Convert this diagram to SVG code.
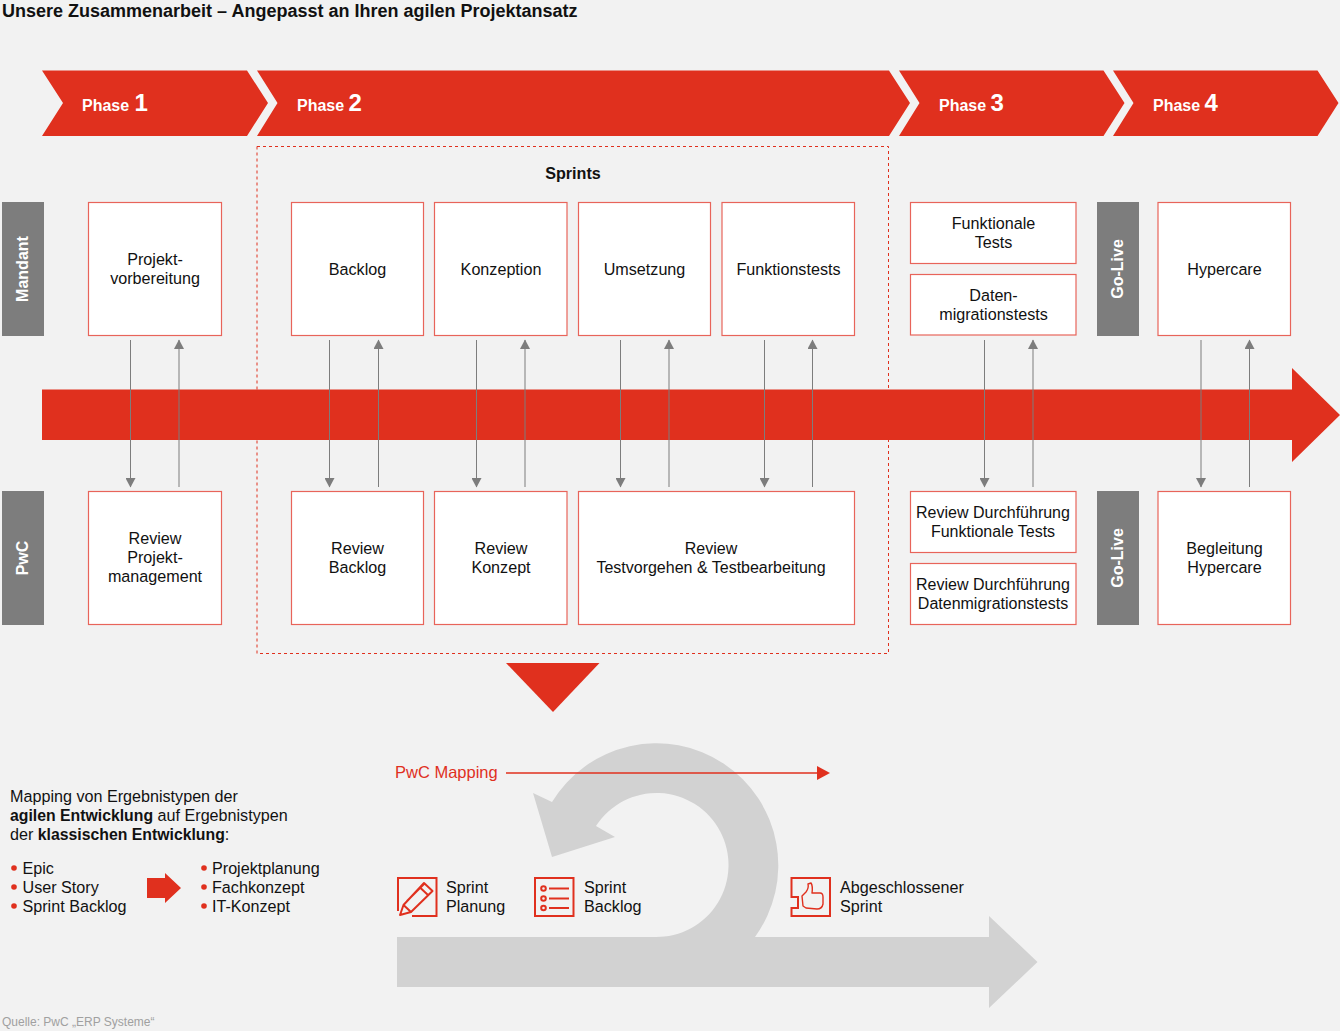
<svg xmlns="http://www.w3.org/2000/svg" width="1340" height="1031" viewBox="0 0 1340 1031">
<style>
text{font-family:"Liberation Sans",Arial,sans-serif;font-size:16.15px;fill:#111}
.c{text-anchor:middle}
.b{font-weight:700}
.bt{font-weight:700;font-size:15.8px}
.box{fill:#fff;stroke:#E8645A;stroke-width:1.2}
.red{fill:#E0301E}
.bar{fill:#7D7D7D}
.rot{font-weight:700;fill:#fff;text-anchor:middle;font-size:16px}
.ph{font-weight:700;fill:#fff;font-size:16px}
.ph tspan{font-size:24px}
.ln{stroke:#7D7D7D;stroke-width:1;fill:none}
.ic{fill:none;stroke:#E0301E;stroke-width:2}
</style>
<defs>
<marker id="ah" markerUnits="userSpaceOnUse" markerWidth="10" markerHeight="10" refX="9" refY="5" orient="auto"><path d="M0,0L9.5,5L0,10Z" fill="#7D7D7D"/></marker>
</defs>
<rect width="1340" height="1031" fill="#F2F2F2"/>
<text id="title" x="2" y="16.500" class="b" style="font-size:18px">Unsere Zusammenarbeit – Angepasst an Ihren agilen Projektansatz</text>

<g id="phase1"><path class="red" d="M42,70.5H247L268,103L247,136H42L63,103Z"/><text class="ph" x="82" y="110.500">Phase <tspan x="134.500">1</tspan></text></g>
<g id="phase2"><path class="red" d="M257,70.5H889L910,103L889,136H257L277.5,103Z"/><text class="ph" x="297" y="110.500">Phase <tspan>2</tspan></text></g>
<g id="phase3"><path class="red" d="M899,70.5H1103.5L1124.5,103L1103.5,136H899L919.5,103Z"/><text class="ph" x="939" y="110.500">Phase <tspan>3</tspan></text></g>
<g id="phase4"><path class="red" d="M1113,70.5H1317.5L1338.5,103L1317.5,136H1113L1133.5,103Z"/><text class="ph" x="1153" y="110.500">Phase <tspan>4</tspan></text></g>

<g id="sprints"><rect x="257" y="146.5" width="631.5" height="507" fill="none" stroke="#E0301E" stroke-width="1" stroke-dasharray="3 3"/><text class="c b" x="573" y="179">Sprints</text></g>

<g id="timeline"><path class="red" d="M42,389.5H1292V368L1340,415L1292,462V440H42Z"/></g>

<g id="mandant"><rect class="bar" x="2" y="202" width="42" height="134"/><text class="rot" transform="translate(28,269) rotate(-90)">Mandant</text></g>
<g id="pwc"><rect class="bar" x="2" y="491" width="42" height="134"/><text class="rot" transform="translate(28,558) rotate(-90)">PwC</text></g>
<g id="golive1"><rect class="bar" x="1097" y="202" width="42" height="134"/><text class="rot" transform="translate(1122.5,269) rotate(-90)">Go-Live</text></g>
<g id="golive2"><rect class="bar" x="1097" y="491" width="42" height="134"/><text class="rot" transform="translate(1122.5,558) rotate(-90)">Go-Live</text></g>

<g id="projektvorbereitung"><rect class="box" x="88.5" y="202.5" width="133" height="133"/><text class="c" x="155" y="265">Projekt-</text><text class="c" x="155" y="284">vorbereitung</text></g>
<g id="backlog"><rect class="box" x="291.5" y="202.5" width="132" height="133"/><text class="c" x="357.500" y="275">Backlog</text></g>
<g id="konzeption"><rect class="box" x="434.500" y="202.5" width="132.500" height="133"/><text class="c" x="501" y="275">Konzeption</text></g>
<g id="umsetzung"><rect class="box" x="578.500" y="202.5" width="132" height="133"/><text class="c" x="644.500" y="275">Umsetzung</text></g>
<g id="funktionstests"><rect class="box" x="722" y="202.5" width="132.500" height="133"/><text class="c" x="788.500" y="275">Funktionstests</text></g>
<g id="funktionale-tests"><rect class="box" x="910.500" y="202.5" width="165.500" height="61"/><text class="c" x="993.500" y="229">Funktionale</text><text class="c" x="993.500" y="248">Tests</text></g>
<g id="datenmigrationstests"><rect class="box" x="910.500" y="274.5" width="165.500" height="60.500"/><text class="c" x="993.500" y="300.500">Daten-</text><text class="c" x="993.500" y="319.500">migrationstests</text></g>
<g id="hypercare"><rect class="box" x="1158" y="202.5" width="132.500" height="133"/><text class="c" x="1224.500" y="275">Hypercare</text></g>

<g id="review-projektmanagement"><rect class="box" x="88.5" y="491.5" width="133" height="133"/><text class="c" x="155" y="544">Review</text><text class="c" x="155" y="563">Projekt-</text><text class="c" x="155" y="582">management</text></g>
<g id="review-backlog"><rect class="box" x="291.5" y="491.5" width="132" height="133"/><text class="c" x="357.500" y="554">Review</text><text class="c" x="357.500" y="573">Backlog</text></g>
<g id="review-konzept"><rect class="box" x="434.500" y="491.5" width="132.500" height="133"/><text class="c" x="501" y="554">Review</text><text class="c" x="501" y="573">Konzept</text></g>
<g id="review-testvorgehen"><rect class="box" x="578.500" y="491.5" width="276" height="133"/><text class="c" x="711" y="554" style="font-size:16px">Review</text><text class="c" x="711" y="573" style="font-size:16px">Testvorgehen &amp; Testbearbeitung</text></g>
<g id="review-funktionale-tests"><rect class="box" x="910.500" y="491.5" width="165.500" height="61"/><text class="c" x="993" y="518" style="font-size:16px">Review Durchführung</text><text class="c" x="993" y="537" style="font-size:16px">Funktionale Tests</text></g>
<g id="review-datenmigrationstests"><rect class="box" x="910.500" y="563.5" width="165.500" height="61"/><text class="c" x="993" y="589.500" style="font-size:16px">Review Durchführung</text><text class="c" x="993" y="608.500" style="font-size:16px">Datenmigrationstests</text></g>
<g id="begleitung-hypercare"><rect class="box" x="1158" y="491.5" width="132.500" height="133"/><text class="c" x="1224.500" y="554">Begleitung</text><text class="c" x="1224.500" y="573">Hypercare</text></g>

<g id="connectors">
<path class="ln" marker-end="url(#ah)" d="M130.500,340V487"/><path class="ln" marker-end="url(#ah)" d="M179,487V340"/>
<path class="ln" marker-end="url(#ah)" d="M329.500,340V487"/><path class="ln" marker-end="url(#ah)" d="M378.500,487V340"/>
<path class="ln" marker-end="url(#ah)" d="M476.500,340V487"/><path class="ln" marker-end="url(#ah)" d="M525,487V340"/>
<path class="ln" marker-end="url(#ah)" d="M620.500,340V487"/><path class="ln" marker-end="url(#ah)" d="M669,487V340"/>
<path class="ln" marker-end="url(#ah)" d="M764.500,340V487"/><path class="ln" marker-end="url(#ah)" d="M812.500,487V340"/>
<path class="ln" marker-end="url(#ah)" d="M984.500,340V487"/><path class="ln" marker-end="url(#ah)" d="M1033,487V340"/>
<path class="ln" marker-end="url(#ah)" d="M1201,340V487"/><path class="ln" marker-end="url(#ah)" d="M1249.500,487V340"/>
</g>

<path id="down-triangle" class="red" d="M506,663H599.500L553,712Z"/>

<path id="sprint-cycle" fill="#D2D2D2" d="M397,937H655A72,72 0 1 0 596,826L615,837L552,857L533,793L552,802A122,122 0 1 1 755,937H989V916L1037.500,962L989,1008V987H397Z"/>

<g id="pwc-mapping"><text x="395" y="778" style="fill:#E0301E;font-size:16.500px">PwC Mapping</text><path d="M506,773H818" stroke="#E0301E" stroke-width="1.6"/><path class="red" d="M817,766L830,773L817,780Z"/></g>

<g id="mapping-text">
<text x="10" y="802">Mapping von Ergebnistypen der</text>
<text x="10" y="821"><tspan class="bt">agilen Entwicklung</tspan> auf Ergebnistypen</text>
<text x="10" y="840">der <tspan class="bt">klassischen Entwicklung</tspan>:</text>
<circle class="red" cx="14" cy="868" r="2.800"/><circle class="red" cx="14" cy="887" r="2.800"/><circle class="red" cx="14" cy="906" r="2.800"/>
<text x="22.500" y="874">Epic</text><text x="22.500" y="893">User Story</text><text x="22.500" y="912">Sprint Backlog</text>
<path class="red" d="M147,878H165V873L181,888L165,903V898H147Z"/>
<circle class="red" cx="204" cy="868" r="2.800"/><circle class="red" cx="204" cy="887" r="2.800"/><circle class="red" cx="204" cy="906" r="2.800"/>
<text x="212" y="874">Projektplanung</text><text x="212" y="893">Fachkonzept</text><text x="212" y="912">IT-Konzept</text>
</g>

<g id="sprint-planung"><path class="ic" d="M412,916H436.500V878H398V911"/><path class="ic" stroke-linejoin="round" d="M400,915L403.500,905L424,883L432.500,891L411,912ZM420,887.500L428.500,895.500M403.500,905L411,912M407,901L424,884"/><text x="446" y="892.500">Sprint</text><text x="446" y="911.500">Planung</text></g>
<g id="sprint-backlog"><rect class="ic" x="535" y="878" width="38.500" height="38"/><circle class="ic" cx="543.500" cy="888.500" r="2.300"/><circle class="ic" cx="543.500" cy="898.500" r="2.300"/><circle class="ic" cx="543.500" cy="908" r="2.300"/><path class="ic" d="M549,888.500H569M549,898.500H569M549,908H569"/><text x="584" y="892.500">Sprint</text><text x="584" y="911.500">Backlog</text></g>
<g id="abgeschlossener-sprint"><path class="ic" d="M791.500,878H830V916H791.500V908H798V897H791.500Z"/><path class="ic" style="stroke-width:1.400" stroke-linejoin="round" d="M802,896L806,892Q809,888 808,884L811,883Q813,886 812,893H820Q823,893 823,897V904Q822,909 817,909L806,908L803,906Z"/><text x="840" y="892.500">Abgeschlossener</text><text x="840" y="911.500">Sprint</text></g>

<text id="source" x="2" y="1026" style="font-size:12px;fill:#A0A0A0">Quelle: PwC „ERP Systeme“</text>
</svg>
